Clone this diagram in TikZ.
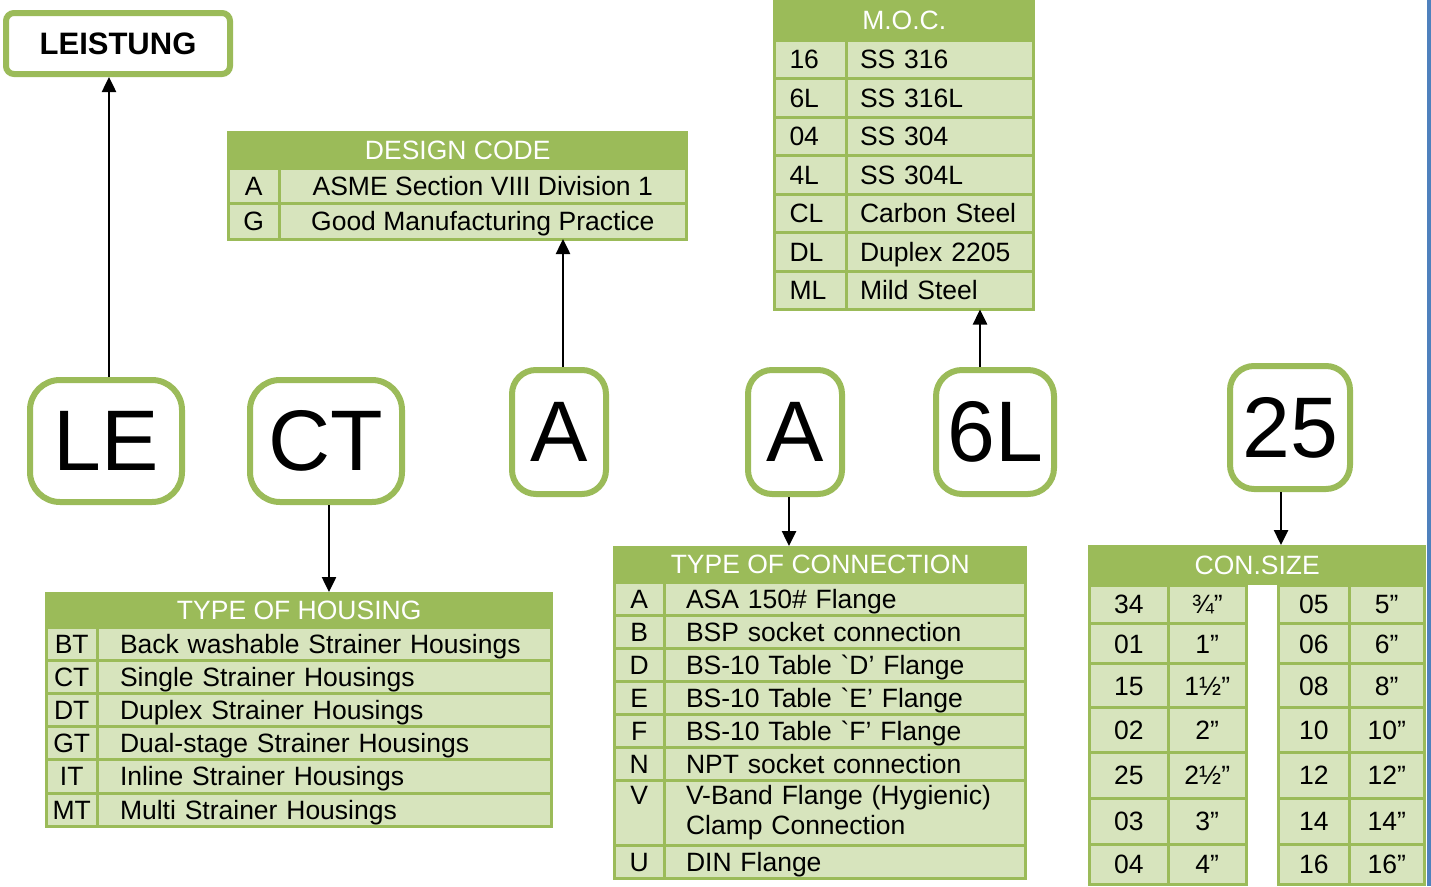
\documentclass[tikz,border=0pt]{standalone}
\usepackage{fontspec}
\setmainfont{Liberation Sans}[Ligatures=TeXOff]
\usetikzlibrary{positioning, arrows.meta}
\definecolor{olive}{HTML}{9BBB59}
\definecolor{pale}{HTML}{D7E4BD}
\definecolor{edgeblue}{HTML}{4F81BD}

\begin{document}
\begin{tikzpicture}[
        x=1pt, y=-1pt,
        font=\fontsize{26.5}{30}\selectfont,
        codebox/.style={draw=olive, line width=6pt, fill=white, rounded corners=#1, inner sep=0pt, font=\fontsize{86}{90}\selectfont},
        tabhead/.style={fill=olive, text=white, anchor=north west, inner sep=0pt, text height=19pt, text depth=0pt},
        tabcell/.style={fill=pale, draw=olive, line width=3pt, outer sep=0pt, inner sep=0pt, text height=19pt, text depth=0pt},
        codecell/.style={tabcell, anchor=north west, minimum width=#1},
        desccell/.style n args={2}{tabcell, align=left, inner xsep=#1, text width=#2},
        arrow/.style={-{Triangle[length=15pt, width=14pt]}, line width=2.5pt}
    ]

        \useasboundingbox (0,0) rectangle (1431,886);
        \fill[edgeblue] (1427,0) rectangle (1431,886);

        \node[codebox=8pt, minimum width=224pt, minimum height=61pt, font=\fontsize{31}{36}\selectfont\bfseries] (leistung) at (118,43.5) {LEISTUNG};
        \node[codebox=30pt, minimum width=152pt, minimum height=122pt] (le) at (106,441) {LE};
        \node[codebox=30pt, minimum width=152pt, minimum height=122pt] (ct) at (326,441) {CT};
        \node[codebox=24pt, minimum width=94pt, minimum height=124pt] (design-a) at (559,432) {A};
        \node[codebox=24pt, minimum width=94pt, minimum height=124pt] (conn-a) at (795,432) {A};
        \node[codebox=26pt, minimum width=118pt, minimum height=124pt] (moc-6l) at (995,432) {6L};
        \node[codebox=24pt, minimum width=120pt, minimum height=123pt] (size-25) at (1290,427.5) {25};

        \node[tabhead, minimum width=508pt, minimum height=35pt] (housing) at (45,592) {TYPE OF HOUSING};
        \foreach \c/\d [count=\i] in {BT/Back washable Strainer Housings, CT/Single Strainer Housings, DT/Duplex Strainer Housings, GT/Dual-stage Strainer Housings, IT/Inline Strainer Housings, MT/Multi Strainer Housings}
        {
            \node[codecell=50.5pt, minimum height=33.2pt] (housing-c\i) at (46.5,593.8+33.2*\i) {\c};
            \node[desccell={23pt}{408.5pt}, minimum height=33.2pt, right=0pt of housing-c\i] (housing-d\i) {\d};
        }

        \node[tabhead, minimum width=461pt, minimum height=37pt] (design) at (227,131) {DESIGN CODE};
        \foreach \c/\d [count=\i] in {A/ASME Section VIII Division 1, G/Good Manufacturing Practice}
        {
            \node[codecell=50.5pt, minimum height=35.5pt] (design-c\i) at (228.5,132.5+35.5*\i) {\c};
            \node[tabcell, minimum width=407.5pt, minimum height=35.5pt, right=0pt of design-c\i] (design-d\i) {\d};
        }

        \node[tabhead, minimum width=262pt, minimum height=40pt] (moc) at (773,0) {M.O.C.};
        \foreach \c/\d [count=\i] in {16/SS 316, 6L/SS 316L, 04/SS 304, 4L/SS 304L, CL/Carbon Steel, DL/Duplex 2205, ML/Mild Steel}
        {
            \node[desccell={15pt}{41.5pt}, minimum height=38.5pt, anchor=north west] (moc-c\i) at (774.5,1.5+38.5*\i) {\c};
            \node[desccell={14pt}{159.5pt}, minimum height=38.5pt, right=0pt of moc-c\i] (moc-d\i) {\d};
        }

        \node[tabhead, minimum width=414pt, minimum height=36pt] (conn) at (613,546) {TYPE OF CONNECTION};
        \foreach \c/\d [count=\i] in {A/ASA 150\# Flange, B/BSP socket connection, D/BS-10 Table `D’ Flange, E/BS-10 Table `E’ Flange, F/BS-10 Table `F’ Flange, N/NPT socket connection}
        {
            \node[codecell=49.5pt, minimum height=33pt] (conn-c\i) at (614.5,549+33*\i) {\c};
            \node[desccell={22pt}{317.5pt}, minimum height=33pt, right=0pt of conn-c\i] (conn-d\i) {\d};
        }
        \node[codecell=49.5pt, minimum height=65.5pt, align=center, text height={}, text depth={}] (conn-c7) at (614.5,780) {V\\\phantom{p}};
        \node[desccell={22pt}{317.5pt}, minimum height=65.5pt, text height={}, text depth={}, right=0pt of conn-c7] (conn-d7) {V-Band Flange (Hygienic)\\Clamp Connection};
        \node[codecell=49.5pt, minimum height=33pt] (conn-c8) at (614.5,845.5) {U};
        \node[desccell={22pt}{317.5pt}, minimum height=33pt, right=0pt of conn-c8] (conn-d8) {DIN Flange};

        \node[tabhead, minimum width=338pt, minimum height=40pt] (size) at (1088,545) {CON.SIZE};
        \foreach \a/\b/\c/\d/\top/\h [count=\i] in {34/¾”/05/5”/585/38.5, 01/1”/06/6”/623.5/40, 15/1½”/08/8”/663.5/44, 02/2”/10/10”/707.5/44.5, 25/2½”/12/12”/752/46, 03/3”/14/14”/798/46, 04/4”/16/16”/844/40}
        {
            \node[codecell=78.5pt, minimum height=\h pt] (size-a\i) at (1089.5,\top) {\a};
            \node[codecell=78.5pt, minimum height=\h pt, right=0pt of size-a\i] (size-b\i) {\b};
            \node[codecell=70.5pt, minimum height=\h pt] (size-c\i) at (1278.5,\top) {\c};
            \node[codecell=75.5pt, minimum height=\h pt, right=0pt of size-c\i] (size-d\i) {\d};
        }

        \draw[arrow] ([xshift=3pt]le.north) -- ([xshift=3pt]le.north |- leistung.south);
        \draw[arrow] ([xshift=3pt]ct.south) -- ([xshift=3pt]ct.south |- housing.north);
        \draw[arrow] ([xshift=4pt]design-a.north) -- ([xshift=4pt]design-a.north |- design-d2.south);
        \draw[arrow] ([xshift=-6pt]conn-a.south) -- ([xshift=-6pt]conn-a.south |- conn.north);
        \draw[arrow] ([xshift=-15pt]moc-6l.north) -- ([xshift=-15pt]moc-6l.north |- moc-d7.south);
        \draw[arrow] ([xshift=-9pt]size-25.south) -- ([xshift=-9pt]size-25.south |- size.north);

    \end{tikzpicture}
\end{document}
